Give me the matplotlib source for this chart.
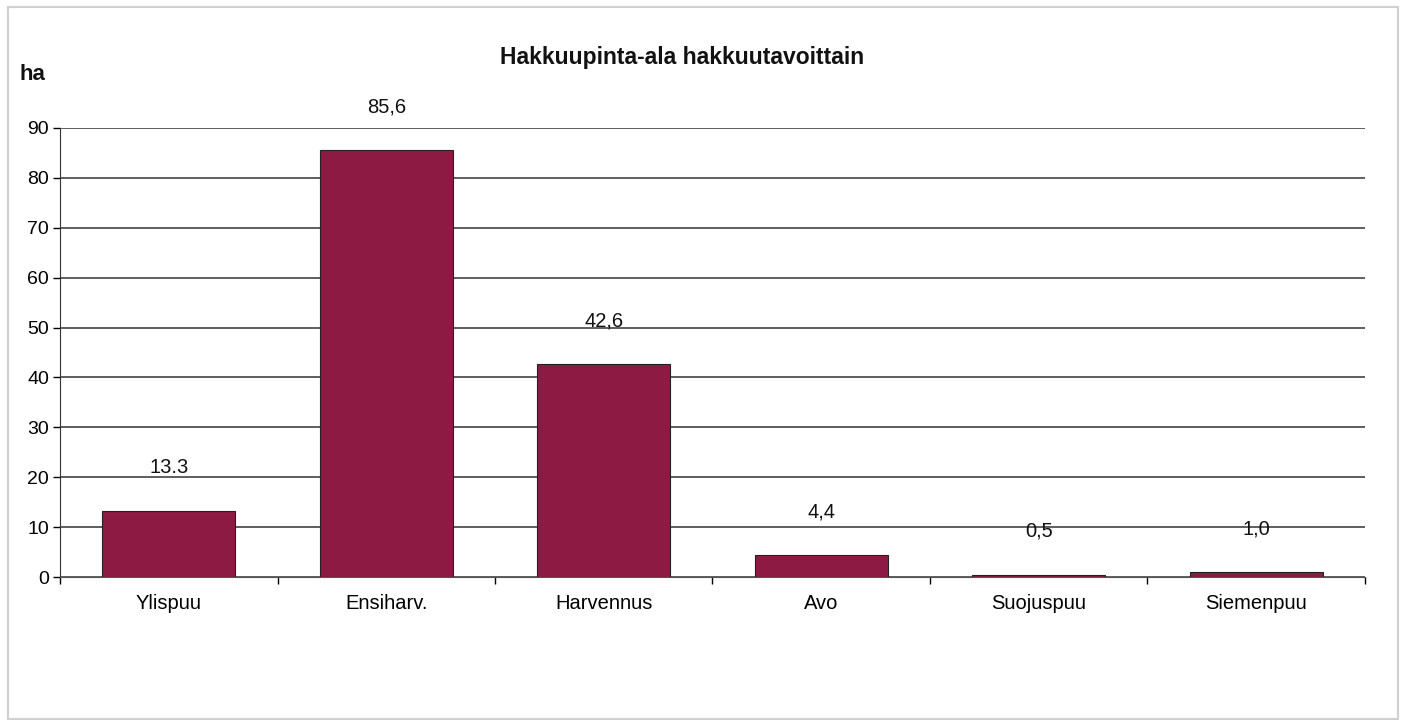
import matplotlib.pyplot as plt
import numpy as np
from matplotlib.patches import Rectangle

categories = ["Ylispuu", "Ensiharv.", "Harvennus", "Avo", "Suojuspuu", "Siemenpuu"]
values = [13.3, 85.6, 42.6, 4.4, 0.5, 1.0]
value_labels = ["13.3", "85,6", "42,6", "4,4", "0,5", "1,0"]
yticks = [0, 10, 20, 30, 40, 50, 60, 70, 80, 90]

plt.rcParams['font.family'] = ['Liberation Sans', 'DejaVu Sans']

fig = plt.figure(figsize=(14.06, 7.28), dpi=100)
fig.patch.set_facecolor('white')
fig.patches.append(Rectangle((0.006, 0.012), 0.988, 0.978, transform=fig.transFigure,
                             fill=False, edgecolor='#d0d0d0', linewidth=1.5))

ax = fig.add_axes([0.0427, 0.2074, 0.9281, 0.6168])
x = np.arange(len(categories))
ax.bar(x, values, width=0.61, color='#8c1a43', edgecolor='#222222', linewidth=0.8, zorder=3)

for xi, v, lab in zip(x, values, value_labels):
    ax.annotate(lab, (xi, v), xytext=(0, 31), textcoords='offset points',
                ha='center', va='center', fontsize=14.5, color='#111111', zorder=4)

ax.set_xlim(-0.5, len(categories) - 0.5)
ax.set_ylim(0, 90)
ax.set_yticks(yticks)
ax.tick_params(axis='y', labelsize=14, length=5, width=1, direction='out', pad=3)
ax.yaxis.grid(True, color='#333333', linewidth=1.1, zorder=0)

ax.set_xticks(x)
ax.set_xticklabels(categories, fontsize=14.5)
ax.tick_params(axis='x', length=0, pad=12)
ax.set_xticks(np.arange(len(categories) + 1) - 0.5, minor=True)
ax.tick_params(axis='x', which='minor', length=5, width=1, direction='out')

for side in ['top', 'right']:
    ax.spines[side].set_visible(False)
ax.spines['left'].set_color('#333333')
ax.spines['bottom'].set_color('#555555')

fig.text(0.485, 0.921, "Hakkuupinta-ala hakkuutavoittain", ha='center', va='center',
         fontsize=16.5, fontweight='bold', color='#111111')
fig.text(0.014, 0.897, "ha", ha='left', va='center', fontsize=16, fontweight='bold', color='#111111')

fig.savefig("out.png", dpi=100)
